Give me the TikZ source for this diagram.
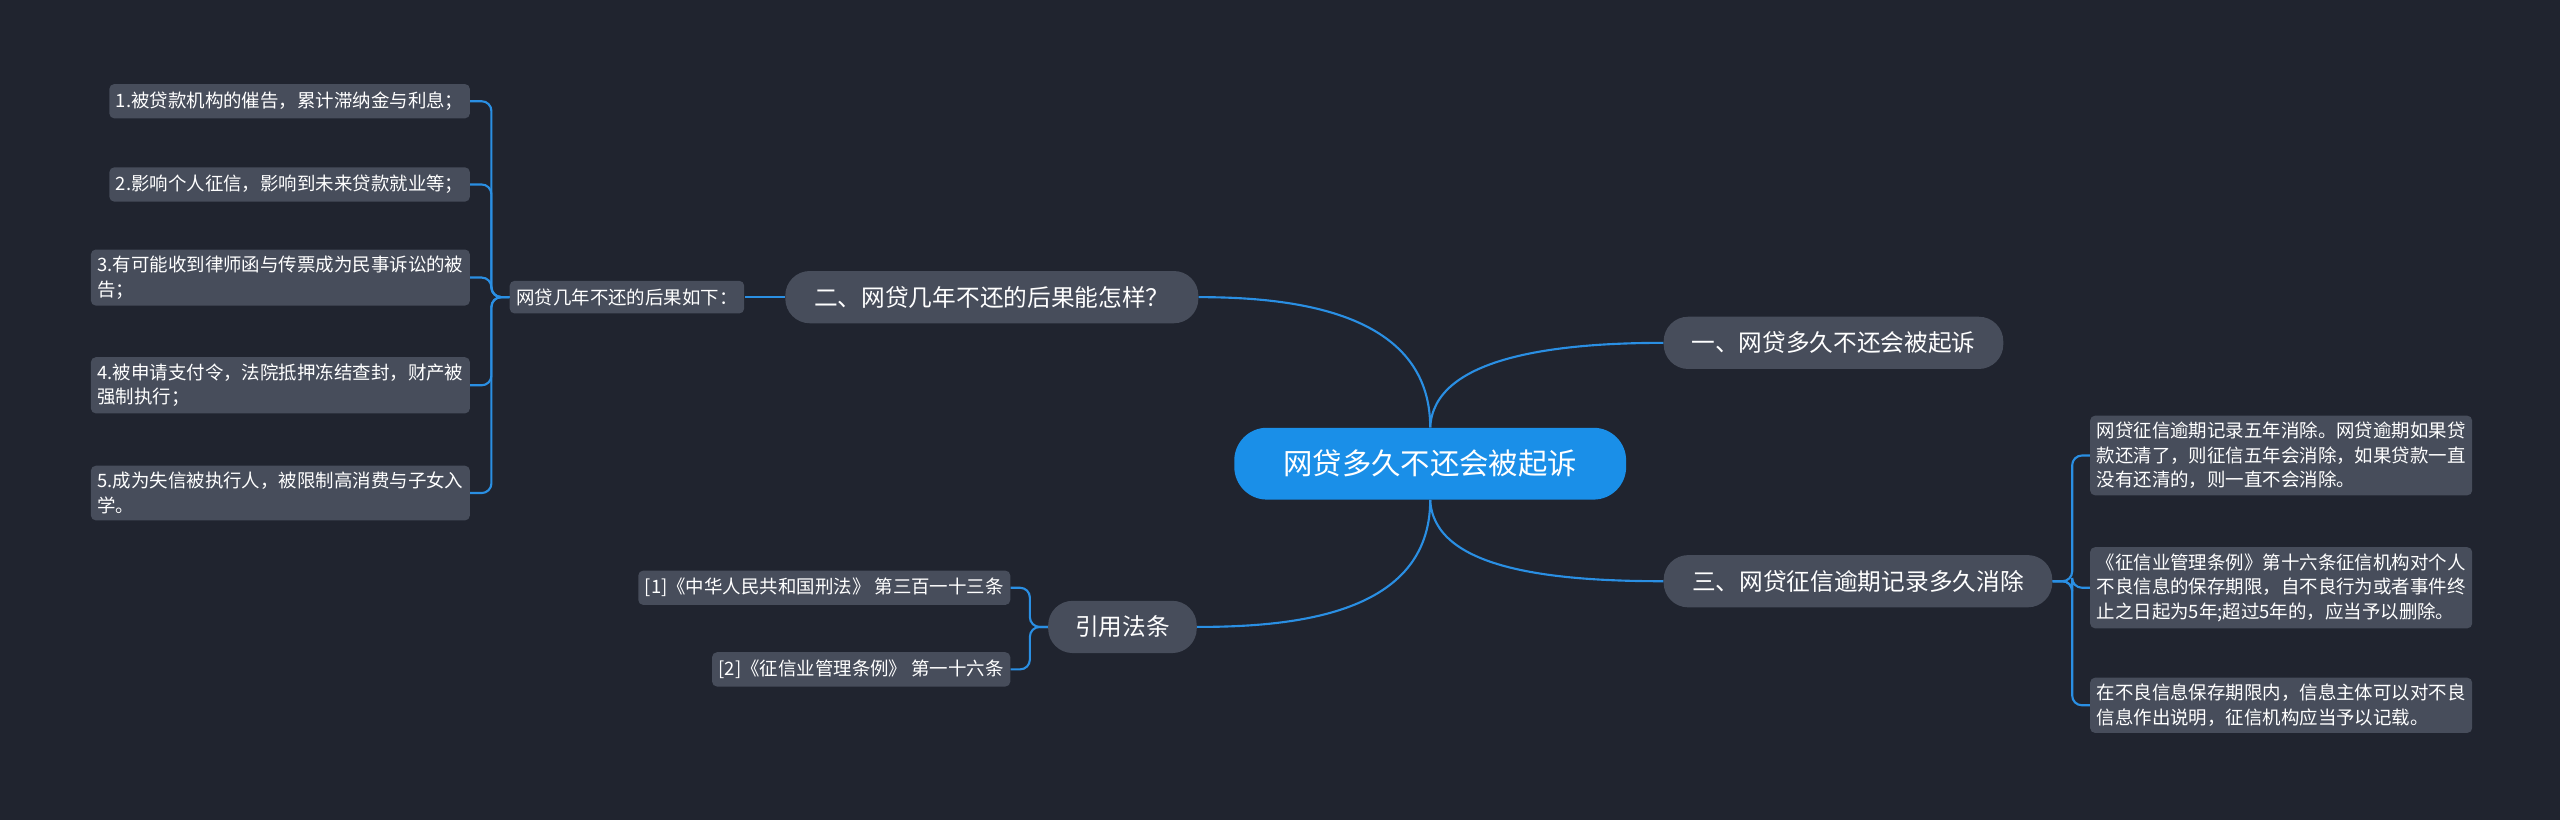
\documentclass[tikz,border=0pt]{standalone}
\usepackage{fontspec}
\setmainfont{Noto Sans CJK SC}
\begin{document}
\begin{tikzpicture}[x=1pt,y=-1pt,
 leaf/.style={fill=nodegray,text=white,rounded corners=3,font=\fontsize{11.3}{15}\selectfont,inner sep=4pt,align=left,minimum height=21},
 branch/.style={fill=nodegray,text=white,rounded corners=15,font=\fontsize{14.5}{18}\selectfont,minimum height=32,inner xsep=12},
 con/.style={draw=linkblue,line width=1.3pt},
 bar/.style={con,rounded corners=6}]
\definecolor{bg}{HTML}{20242F}
\definecolor{nodegray}{HTML}{474D5B}
\definecolor{linkblue}{HTML}{2A8FE3}
\definecolor{cblue}{HTML}{1A8FE8}
\fill[bg] (0,0) rectangle (1568,502);
\node[fill=cblue,text=white,rounded corners=20,minimum width=240,minimum height=44,font=\fontsize{18}{22}\selectfont] (c) at (876,284) {网贷多久不还会被起诉};
\node[branch,minimum width=253] (b1) at (607.5,182) {二、网贷几年不还的后果能怎样？};
\node[branch,minimum width=208] (b2) at (1123,210) {一、网贷多久不还会被起诉};
\node[branch,minimum width=238] (b3) at (1138,356) {三、网贷征信逾期记录多久消除};
\node[branch,minimum width=91] (b4) at (687.5,384) {引用法条};
\node[leaf,minimum height=20] (s) at (384,182) {网贷几年不还的后果如下：};
\node[leaf,anchor=east] (l1) at (288,62) {1.被贷款机构的催告，累计滞纳金与利息；};
\node[leaf,anchor=east] (l2) at (288,113) {2.影响个人征信，影响到未来贷款就业等；};
\node[leaf,anchor=east] (l3) at (288,170) {3.有可能收到律师函与传票成为民事诉讼的被\\告；};
\node[leaf,anchor=east] (l4) at (288,236) {4.被申请支付令，法院抵押冻结查封，财产被\\强制执行；};
\node[leaf,anchor=east] (l5) at (288,302) {5.成为失信被执行人，被限制高消费与子女入\\学。};
\node[leaf,anchor=east] (r1) at (619,360) {[1]《中华人民共和国刑法》 第三百一十三条};
\node[leaf,anchor=east] (r2) at (619,410) {[2]《征信业管理条例》 第一十六条};
\node[leaf,anchor=west] (t1) at (1280,279) {网贷征信逾期记录五年消除。网贷逾期如果贷\\款还清了，则征信五年会消除，如果贷款一直\\没有还清的，则一直不会消除。};
\node[leaf,anchor=west] (t2) at (1280,360) {《征信业管理条例》第十六条征信机构对个人\\不良信息的保存期限，自不良行为或者事件终\\止之日起为5年;超过5年的，应当予以删除。};
\node[leaf,anchor=west] (t3) at (1280,432) {在不良信息保存期限内，信息主体可以对不良\\信息作出说明，征信机构应当予以记载。};
\draw[con] (c.north) .. controls +(0,-70) and +(60,0) .. (b1.east);
\draw[con] (c.north) .. controls +(2,-42) and +(-70,0) .. (b2.west);
\draw[con] (c.south) .. controls +(2,42) and +(-70,0) .. (b3.west);
\draw[con] (c.south) .. controls +(0,70) and +(60,0) .. (b4.east);
\draw[con] (b1.west) -- (s.east);
\foreach \n in {l1,l2,l3,l4,l5} \draw[bar] (s.west) -- ++(-11,0) |- (\n.east);
\foreach \n in {r1,r2} \draw[bar] (b4.west) -- ++(-11,0) |- (\n.east);
\foreach \n in {t1,t2,t3} \draw[bar] (b3.east) -- ++(12,0) |- (\n.west);
\end{tikzpicture}
\end{document}
